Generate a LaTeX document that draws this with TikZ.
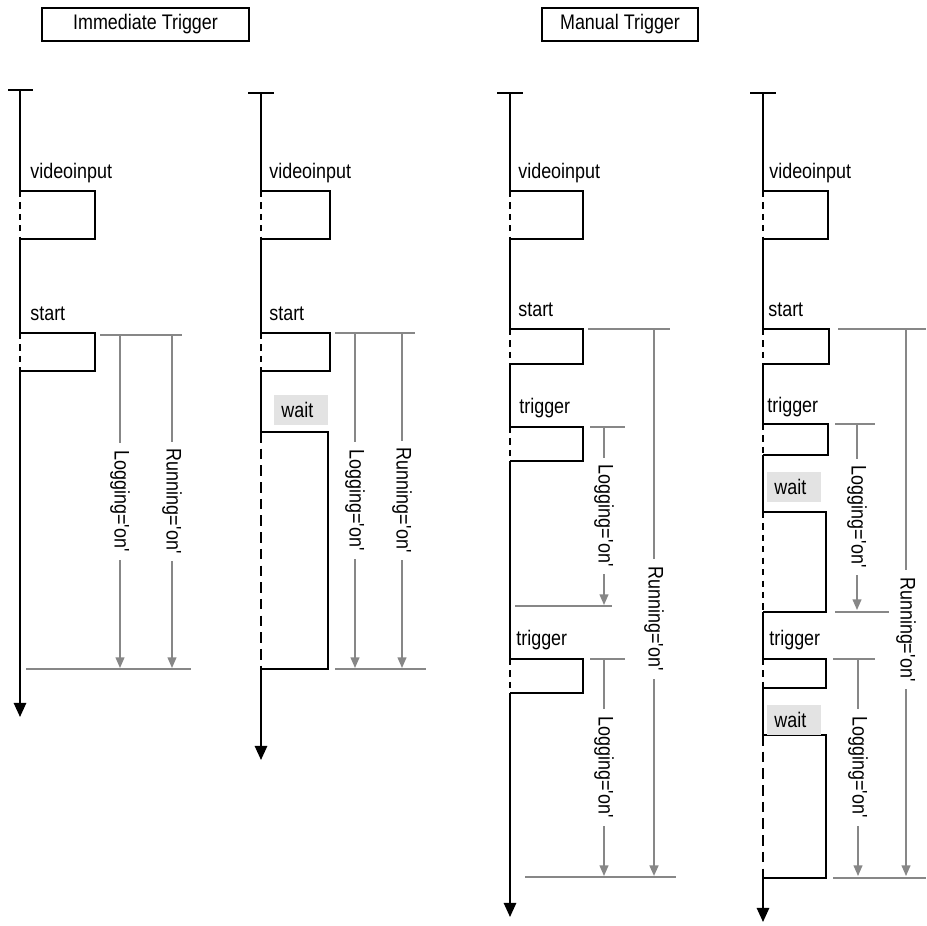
\documentclass[tikz,border=0pt]{standalone}
\usepackage{fontspec}
\setmainfont{Liberation Sans}[FakeStretch=0.85]
\usetikzlibrary{positioning, calc, arrows.meta}

\newcommand{\qt}{\textquotesingle}

\begin{document}
\begin{tikzpicture}[
		x=0.02cm, y=-0.02cm,
		font=\fontsize{12}{14}\selectfont,
		% --- ESTILOS ---
		title/.style={draw, line width=0.9pt, minimum height=0.66cm, inner sep=0pt},
		lbl/.style={anchor=base west, inner sep=0pt},
		lifeline/.style={line width=1.1pt},
		lifeend/.style={line width=1.1pt, -{Triangle[width=7pt,length=8pt]}},
		idle/.style={line width=1pt, dash pattern=on 3.5pt off 3pt},
		phase/.style={line width=1.1pt},
		waitbox/.style={fill=black!11, anchor=west, inner xsep=4pt, text width=0.8cm, minimum height=0.6cm, align=left},
		marker/.style={draw=black!47, line width=0.8pt},
		span/.style={draw=black!47, line width=0.8pt, -{Triangle[width=5pt,length=6pt]}},
		spanlbl/.style={rotate=-90, fill=white, inner sep=4pt}
		]
		\useasboundingbox (0,0) rectangle (926,926);
		
		% --- TITULOS ---
		\node (imm) [title, minimum width=4.14cm] at (145.5,24.5) {Immediate Trigger};
		\node (man) [title, minimum width=3.12cm] at (620,24.5) {Manual Trigger};
		
		% --- CARRIL A: inmediato ---
		\coordinate (A0) at (20,90);  \coordinate (A1) at (20,191); \coordinate (A2) at (20,239);
		\coordinate (A3) at (20,333); \coordinate (A4) at (20,371); \coordinate (A5) at (20,717);
		\draw[lifeline] ($(A0)+(-12,0)$) -- ($(A0)+(13,0)$);
		\draw[lifeline] (A0) -- (A1);
		\draw[idle] (A1) -- (A2);
		\draw[lifeline] (A2) -- (A3);
		\draw[idle] (A3) -- (A4);
		\draw[lifeend] (A4) -- (A5);
		\draw[phase] (A1) -| ++(75,48) -- (A2);
		\draw[phase] (A3) -| ++(75,38) -- (A4);
		\node (viA) [lbl] at ($(A1)+(10,-13)$) {videoinput};
		\node (stA) [lbl] at ($(A3)+(10,-13)$) {start};
		
		\coordinate (AmT) at (100,335); \coordinate (AmB) at (26,669);
		\coordinate (AlT) at (120,335); \coordinate (AlB) at (120,668);
		\coordinate (ArT) at (172,335); \coordinate (ArB) at (172,668);
		\draw[marker] (AmT) -- ++(82,0);
		\draw[marker] (AmB) -- ++(165,0);
		\draw[span] (AlT) -- node[spanlbl] {Logging=\qt on\qt} (AlB);
		\draw[span] (ArT) -- node[spanlbl] {Running=\qt on\qt} (ArB);
		
		% --- CARRIL B: inmediato con espera ---
		\coordinate (B0) at (261,93);  \coordinate (B1) at (261,191); \coordinate (B2) at (261,239);
		\coordinate (B3) at (261,333); \coordinate (B4) at (261,371); \coordinate (B5) at (261,432);
		\coordinate (B6) at (261,669); \coordinate (B7) at (261,760);
		\draw[lifeline] ($(B0)+(-13,0)$) -- ($(B0)+(13,0)$);
		\draw[lifeline] (B0) -- (B1);
		\draw[idle] (B1) -- (B2);
		\draw[lifeline] (B2) -- (B3);
		\draw[idle] (B3) -- (B4);
		\draw[lifeline] (B4) -- (B5);
		\draw[idle, dash pattern=on 6pt off 3.5pt] (B5) -- (B6);
		\draw[lifeend] (B6) -- (B7);
		\draw[phase] (B1) -| ++(69,48) -- (B2);
		\draw[phase] (B3) -| ++(69,38) -- (B4);
		\draw[phase] (B5) -| ++(67,237) -- (B6);
		\node (viB) [lbl] at ($(B1)+(8,-13)$) {videoinput};
		\node (stB) [lbl] at ($(B3)+(8,-13)$) {start};
		\node (waB) [waitbox] at (274,410) {wait};
		
		\coordinate (BmT) at (335,333); \coordinate (BmB) at (335,669);
		\coordinate (BlT) at (355,333); \coordinate (BlB) at (355,668);
		\coordinate (BrT) at (402,333); \coordinate (BrB) at (402,668);
		\draw[marker] (BmT) -- ++(80,0);
		\draw[marker] (BmB) -- ++(91,0);
		\draw[span] (BlT) -- node[spanlbl] {Logging=\qt on\qt} (BlB);
		\draw[span] (BrT) -- node[spanlbl] {Running=\qt on\qt} (BrB);
		
		% --- CARRIL C: manual ---
		\coordinate (C0) at (510,93);  \coordinate (C1) at (510,191); \coordinate (C2) at (510,239);
		\coordinate (C3) at (510,329); \coordinate (C4) at (510,364); \coordinate (C5) at (510,427);
		\coordinate (C6) at (510,461); \coordinate (C7) at (510,659); \coordinate (C8) at (510,693);
		\coordinate (C9) at (510,917);
		\draw[lifeline] ($(C0)+(-13,0)$) -- ($(C0)+(13,0)$);
		\draw[lifeline] (C0) -- (C1);
		\draw[idle] (C1) -- (C2);
		\draw[lifeline] (C2) -- (C3);
		\draw[idle] (C3) -- (C4);
		\draw[lifeline] (C4) -- (C5);
		\draw[idle] (C5) -- (C6);
		\draw[lifeline] (C6) -- (C7);
		\draw[idle] (C7) -- (C8);
		\draw[lifeend] (C8) -- (C9);
		\draw[phase] (C1) -| ++(73,48) -- (C2);
		\draw[phase] (C3) -| ++(73,35) -- (C4);
		\draw[phase] (C5) -| ++(73,34) -- (C6);
		\draw[phase] (C7) -| ++(73,34) -- (C8);
		\node (viC) [lbl] at ($(C1)+(8,-13)$) {videoinput};
		\node (stC) [lbl] at ($(C3)+(8,-13)$) {start};
		\node (t1C) [lbl] at ($(C5)+(9,-14)$) {trigger};
		\node (t2C) [lbl] at ($(C7)+(6,-14)$) {trigger};
		
		\coordinate (CmR) at (588,329);
		\coordinate (Cm1) at (590,427); \coordinate (Cn1) at (515,606);
		\coordinate (Cm2) at (590,659); \coordinate (Cn2) at (525,877);
		\coordinate (Cl1T) at (604,427); \coordinate (Cl1B) at (604,605);
		\coordinate (Cl2T) at (604,659); \coordinate (Cl2B) at (604,876);
		\coordinate (CrT) at (654,329);  \coordinate (CrB) at (654,876);
		\draw[marker] (CmR) -- ++(82,0);
		\draw[marker] (Cm1) -- ++(35,0);
		\draw[marker] (Cn1) -- ++(97,0);
		\draw[marker] (Cm2) -- ++(35,0);
		\draw[marker] (Cn2) -- ++(151,0);
		\draw[span] (Cl1T) -- node[spanlbl] {Logging=\qt on\qt} (Cl1B);
		\draw[span] (Cl2T) -- node[spanlbl] {Logging=\qt on\qt} (Cl2B);
		\draw[span, line width=1.2pt] (CrT) -- node[spanlbl, pos=0.53] {Running=\qt on\qt} (CrB);
		
		% --- CARRIL D: manual con espera ---
		\coordinate (D0) at (763,93);   \coordinate (D1) at (763,191);  \coordinate (D2) at (763,239);
		\coordinate (D3) at (763,329);  \coordinate (D4) at (763,364);  \coordinate (D5) at (763,424);
		\coordinate (D6) at (763,455);  \coordinate (D7) at (763,512);  \coordinate (D8) at (763,612);
		\coordinate (D9) at (763,659);  \coordinate (D10) at (763,688); \coordinate (D11) at (763,735);
		\coordinate (D12) at (763,878); \coordinate (D13) at (763,922);
		\draw[lifeline] ($(D0)+(-13,0)$) -- ($(D0)+(13,0)$);
		\draw[lifeline] (D0) -- (D1);
		\draw[idle] (D1) -- (D2);
		\draw[lifeline] (D2) -- (D3);
		\draw[idle] (D3) -- (D4);
		\draw[lifeline] (D4) -- (D5);
		\draw[idle] (D5) -- (D6);
		\draw[lifeline] (D6) -- (D7);
		\draw[idle] (D7) -- (D8);
		\draw[lifeline] (D8) -- (D9);
		\draw[idle] (D9) -- (D10);
		\draw[lifeline] (D10) -- (D11);
		\draw[idle, dash pattern=on 6pt off 3.5pt] (D11) -- (D12);
		\draw[lifeend] (D12) -- (D13);
		\draw[phase] (D1) -| ++(65,48) -- (D2);
		\draw[phase] (D3) -| ++(66,35) -- (D4);
		\draw[phase] (D5) -| ++(65,31) -- (D6);
		\draw[phase] (D7) -| ++(63,100) -- (D8);
		\draw[phase] (D9) -| ++(63,29) -- (D10);
		\draw[phase] (D11) -| ++(63,143) -- (D12);
		\node (viD) [lbl] at ($(D1)+(6,-13)$) {videoinput};
		\node (stD) [lbl] at ($(D3)+(5,-13)$) {start};
		\node (t1D) [lbl] at ($(D5)+(4,-12)$) {trigger};
		\node (t2D) [lbl] at ($(D9)+(6,-14)$) {trigger};
		\node (w1D) [waitbox] at (767,486.5) {wait};
		\node (w2D) [waitbox] at (767,720) {wait};
		
		\coordinate (DmR) at (838,329);
		\coordinate (Dm1) at (835,424); \coordinate (Dn1) at (835,612);
		\coordinate (Dm2) at (833,659); \coordinate (Dn2) at (833,878);
		\coordinate (Dl1T) at (857,424); \coordinate (Dl1B) at (857,610);
		\coordinate (Dl2T) at (858,659); \coordinate (Dl2B) at (858,876);
		\coordinate (DrT) at (906,329);  \coordinate (DrB) at (906,876);
		\draw[marker] (DmR) -- ++(88,0);
		\draw[marker] (Dm1) -- ++(40,0);
		\draw[marker] (Dn1) -- ++(70,0);
		\draw[marker] (Dm2) -- ++(42,0);
		\draw[marker] (Dn2) -- ++(93,0);
		\draw[span] (Dl1T) -- node[spanlbl] {Logging=\qt on\qt} (Dl1B);
		\draw[span] (Dl2T) -- node[spanlbl] {Logging=\qt on\qt} (Dl2B);
		\draw[span] (DrT) -- node[spanlbl, pos=0.55] {Running=\qt on\qt} (DrB);
		
	\end{tikzpicture}
\end{document}
